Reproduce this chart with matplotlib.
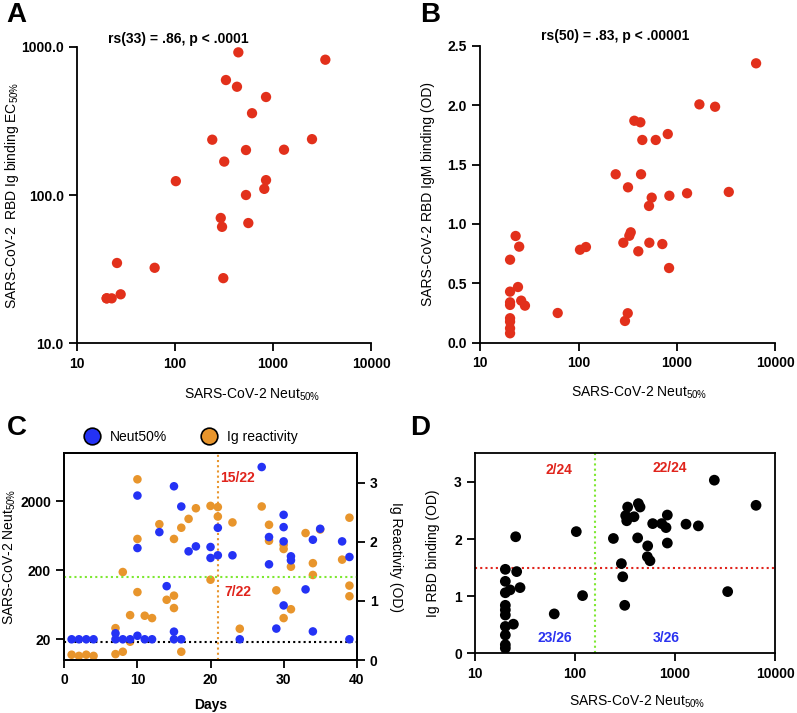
import numpy as np
import matplotlib
matplotlib.use("Agg")
import matplotlib.pyplot as plt
from matplotlib.lines import Line2D
from matplotlib.ticker import FixedLocator, NullLocator, FuncFormatter

plt.rcParams['font.family'] = ['Liberation Sans', 'DejaVu Sans']
plt.rcParams['mathtext.default'] = 'regular'

# ── Data ─────────────────────────────────────────────────────────────────────

# A: Neut50 vs RBD Ig binding EC50
a_neut = [443, 3420, 331, 429, 849, 611, 240, 530, 1295, 2500, 318, 102,
          849, 815, 530, 293, 302, 560, 25.6, 62, 311, 20.1, 22.6, 27.9, 20.1]
a_ec50 = [916, 817, 596, 537, 458, 356, 236, 201, 202, 238, 168, 124,
          126, 110, 100, 70, 61, 64.7, 34.8, 32.3, 27.5, 20.1, 20.1, 21.4, 20.1]

# B: Neut50 vs RBD IgM binding (OD)
b_neut = [6420, 1700, 2455, 370, 426, 810, 446, 611, 239, 433, 319, 556,
          522, 841, 1273, 3385, 22.9, 24.9, 20.1, 340, 329, 286, 526, 713,
          406, 835, 103.5, 119, 24.2, 20.1, 20.1, 20.1, 26.1, 28.5, 61.4,
          317, 297, 20.1, 20.1, 20.1, 20.1]
b_igm = [2.354, 2.008, 1.988, 1.870, 1.857, 1.758, 1.708, 1.708, 1.419,
         1.419, 1.309, 1.222, 1.152, 1.238, 1.259, 1.270, 0.899, 0.809,
         0.699, 0.930, 0.901, 0.842, 0.842, 0.831, 0.770, 0.629, 0.783,
         0.806, 0.469, 0.430, 0.340, 0.318, 0.354, 0.312, 0.250, 0.248,
         0.183, 0.206, 0.177, 0.121, 0.079]

# C: time course
c_neut_day = [1, 2, 3, 4, 7, 7, 8, 9, 10, 11, 12, 10, 10, 13, 14, 15, 15,
              15, 16, 16, 17, 18, 20, 20, 21, 21, 23, 24, 27, 28, 28, 29,
              30, 30, 30, 30, 31, 31, 33, 34, 34, 35, 38, 39, 39]
c_neut = [20, 20, 20, 20, 24.4, 20, 20, 20, 22.5, 20, 20, 2437, 422, 719,
          118, 3325, 25.8, 20, 1690, 20, 378, 446, 437, 303, 331, 830, 331,
          20, 6325, 609, 245, 28.6, 1280, 849, 527, 62, 320, 280, 106, 557,
          26, 803, 527, 313, 20]
c_ig_day = [1, 2, 3, 4, 7, 7, 8, 8, 9, 9, 10, 10, 10, 11, 12, 13, 14, 15,
            15, 15, 16, 16, 17, 18, 20, 20, 21, 21, 23, 24, 27, 28, 28, 29,
            30, 30, 30, 31, 31, 33, 34, 34, 35, 38, 39, 39, 39]
c_ig = [0.09, 0.07, 0.09, 0.07, 0.54, 0.10, 0.14, 1.49, 0.76, 0.31, 3.06,
        2.05, 1.15, 0.75, 0.71, 2.30, 1.02, 2.05, 1.09, 0.88, 2.24, 0.14,
        2.39, 2.57, 2.61, 1.36, 2.59, 2.43, 2.33, 0.53, 2.60, 2.29, 2.02,
        1.18, 1.95, 1.88, 0.71, 1.58, 0.86, 2.15, 1.64, 1.44, 2.21, 1.70,
        2.41, 1.26, 1.08]

# D: Neut50 vs Ig RBD binding (OD)
d_neut = [2473, 6460, 430, 447, 336, 389, 321, 329, 838, 598, 736, 813,
          1288, 1711, 242, 423, 838, 533, 529, 562, 291, 300, 314, 3362,
          103, 119, 62, 25.5, 26.1, 28.2, 24.2, 20.1, 20.1, 20.1, 22.4,
          20.1, 20.1, 20.1, 20.1, 20.1, 20.1, 20.1]
d_ig = [3.03, 2.59, 2.62, 2.56, 2.56, 2.39, 2.41, 2.32, 2.42, 2.27, 2.27,
        2.20, 2.26, 2.23, 2.01, 2.02, 1.93, 1.88, 1.69, 1.62, 1.57, 1.34,
        0.84, 1.08, 2.13, 1.01, 0.69, 2.04, 1.43, 1.15, 0.51, 1.47, 1.26,
        1.06, 1.11, 0.84, 0.76, 0.67, 0.47, 0.32, 0.15, 0.09]

neut_cut = 160
ig_cut = 1.5

RED = "#e2301b"
BLUE = "#2432f5"
ORANGE = "#e8952c"
NEUT_LABEL = r"SARS-CoV-2 Neut$_{50\%}$"


def style_axes(ax, lw=1.3):
    for s in ax.spines.values():
        s.set_linewidth(lw)
    ax.tick_params(width=lw, length=6, labelsize=10)
    for lab in ax.get_xticklabels() + ax.get_yticklabels():
        lab.set_fontweight("bold")


def log_x(ax):
    ax.set_xscale("log")
    ax.set_xlim(10, 10000)
    ax.xaxis.set_major_locator(FixedLocator([10, 100, 1000, 10000]))
    ax.xaxis.set_minor_locator(NullLocator())
    ax.xaxis.set_major_formatter(FuncFormatter(lambda v, p: f"{v:.0f}"))


fig = plt.figure(figsize=(7.97, 7.13), dpi=100)

# ── A ────────────────────────────────────────────────────────────────────────
ax = fig.add_axes([0.0966, 0.5185, 0.3689, 0.416])
ax.scatter(a_neut, a_ec50, s=55, color=RED, edgecolors="none", zorder=3,
           clip_on=False)
log_x(ax)
ax.set_yscale("log")
ax.set_ylim(10, 1000)
ax.yaxis.set_major_locator(FixedLocator([10, 100, 1000]))
ax.yaxis.set_minor_locator(NullLocator())
ax.yaxis.set_major_formatter(FuncFormatter(lambda v, p: f"{v:.1f}"))
ax.spines[["top", "right"]].set_visible(False)
ax.set_xlabel(NEUT_LABEL, fontsize=10)
ax.xaxis.set_label_coords(0.595, -0.147)
ax.set_ylabel(r"SARS-CoV-2  RBD Ig binding EC$_{50\%}$", fontsize=10)
ax.yaxis.set_label_coords(-0.19, 0.5)
ax.set_title("rs(33) = .86, p < .0001", fontsize=10, fontweight="bold",
             pad=3, x=0.343)
style_axes(ax)

# ── B ────────────────────────────────────────────────────────────────────────
ax = fig.add_axes([0.6026, 0.5194, 0.3698, 0.4161])
ax.scatter(b_neut, b_igm, s=55, color=RED, edgecolors="none", zorder=3,
           clip_on=False)
log_x(ax)
ax.set_ylim(0, 2.5)
ax.set_yticks(np.arange(0, 2.51, 0.5))
ax.yaxis.set_major_formatter(FuncFormatter(lambda v, p: f"{v:.1f}"))
ax.spines[["top", "right"]].set_visible(False)
ax.set_xlabel(NEUT_LABEL, fontsize=10)
ax.xaxis.set_label_coords(0.54, -0.1425)
ax.set_ylabel("SARS-CoV-2 RBD IgM binding (OD)", fontsize=10)
ax.yaxis.set_label_coords(-0.154, 0.5)
ax.set_title("rs(50) = .83, p < .00001", fontsize=10, fontweight="bold",
             pad=4, x=0.457)
style_axes(ax)

# ── C ────────────────────────────────────────────────────────────────────────
ax = fig.add_axes([0.0807, 0.0743, 0.3669, 0.2899])
ax2 = ax.twinx()
ax.set_zorder(ax2.get_zorder() + 1)
ax.patch.set_visible(False)

ax2.scatter(c_ig_day, c_ig, s=38, color=ORANGE, edgecolors="none", zorder=3)
ax.scatter(c_neut_day, c_neut, s=38, color=BLUE, edgecolors="none",
           zorder=3)
ax.axhline(neut_cut, color="#7ee832", ls=(0, (1, 1.5)), lw=1.5, zorder=2)
ax.axhline(18, color="black", ls=(0, (1, 1.5)), lw=1.5, zorder=2)
ax.axvline(21, color=ORANGE, ls=(0, (1, 1.5)), lw=1.5, zorder=2)

ax.set_xlim(0, 40)
ax.set_xticks([0, 10, 20, 30, 40])
ax.set_yscale("log")
ax.set_ylim(10, 10000)
ax.yaxis.set_major_locator(FixedLocator([20, 200, 2000]))
ax.yaxis.set_minor_locator(NullLocator())
ax.yaxis.set_major_formatter(FuncFormatter(lambda v, p: f"{v:.0f}"))
ax2.set_ylim(0, 3.5)
ax2.set_yticks([0, 1, 2, 3])
ax.set_xlabel("Days", fontsize=10, fontweight="bold", labelpad=8)
ax.set_ylabel(NEUT_LABEL, fontsize=10)
ax.yaxis.set_label_coords(-0.158, 0.5)
ax2.set_ylabel("Ig Reactivity (OD)", fontsize=10, rotation=270)
ax2.yaxis.set_label_coords(1.158, 0.5)
ax2.text(23.7, 3.08, "15/22", color="#e0241c", fontsize=10,
         fontweight="bold", ha="center", va="center")
ax2.text(23.7, 1.16, "7/22", color="#e0241c", fontsize=10,
         fontweight="bold", ha="center", va="center")
style_axes(ax)
style_axes(ax2)

handles = [
    Line2D([], [], ls="none", marker="o", ms=12, mfc=BLUE, mec="black",
           mew=1.2),
    Line2D([], [], ls="none", marker="o", ms=12, mfc=ORANGE, mec="black",
           mew=1.2),
]
ax.legend(handles, ["Neut50%", "Ig reactivity"], loc="lower left",
          bbox_to_anchor=(0.015, 1.0), ncol=2, frameon=False, fontsize=10,
          handletextpad=0.3, columnspacing=2.0, borderaxespad=0.3)

# ── D ────────────────────────────────────────────────────────────────────────
ax = fig.add_axes([0.596, 0.0837, 0.3764, 0.2805])
ax.scatter(d_neut, d_ig, s=60, color="black", edgecolors="none", zorder=3)
ax.axvline(neut_cut, color="#7ee832", ls=(0, (1, 1.5)), lw=1.5, zorder=2)
ax.axhline(ig_cut, color="#e0241c", ls=(0, (1, 1.5)), lw=1.5, zorder=2)
log_x(ax)
ax.set_ylim(0, 3.5)
ax.set_yticks([0, 1, 2, 3])
ax.set_xlabel(NEUT_LABEL, fontsize=10)
ax.xaxis.set_label_coords(0.54, -0.2)
ax.set_ylabel("Ig RBD binding (OD)", fontsize=10)
ax.yaxis.set_label_coords(-0.117, 0.5)
for x, y, t, c in [(69.7, 3.2, "2/24", "#e0241c"),
                   (891, 3.24, "22/24", "#e0241c"),
                   (63, 0.27, "23/26", "#2a32f0"),
                   (813, 0.27, "3/26", "#2a32f0")]:
    ax.text(x, y, t, color=c, fontsize=10, fontweight="bold",
            ha="center", va="center")
style_axes(ax)

# ── Panel letters ────────────────────────────────────────────────────────────
for x, y, t in [(0.008, 0.997, "A"), (0.527, 0.997, "B"),
                (0.008, 0.418, "C"), (0.514, 0.418, "D")]:
    fig.text(x, y, t, fontsize=20, fontweight="bold", ha="left", va="top")

fig.savefig("out.png", dpi=100)
